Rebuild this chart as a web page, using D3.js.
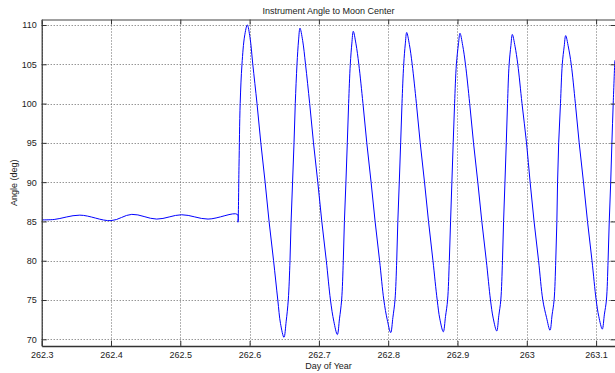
<!DOCTYPE html>
<html>
<head>
<meta charset="utf-8">
<script src="https://cdn.jsdelivr.net/npm/d3@7"></script>
<style>
  body { margin: 0; background: #fff; }
  svg { display: block; }
</style>
</head>
<body>
<svg id="chart"></svg>
<script>
// ticks / labels
const xTicks = [262.3, 262.4, 262.5, 262.6, 262.7, 262.8, 262.9, 263.0, 263.1];
const xTickLabels = ["262.3", "262.4", "262.5", "262.6", "262.7", "262.8", "262.9", "263", "263.1"];
const yTicks = [70, 75, 80, 85, 90, 95, 100, 105, 110];
const title = "Instrument Angle to Moon Center";
const xLabel = "Day of Year";
const yLabel = "Angle (deg)";

// before the slew: slow wobble around 85 deg
const calmDay   = [262.300, 262.318, 262.355, 262.400, 262.430, 262.466, 262.502, 262.540, 262.5823, 262.5832];
const calmAngle = [85.2, 85.25, 85.8, 85.1, 85.9, 85.3, 85.85, 85.3, 85.9, 84.9];

// after: big swings (one row per half cycle)
const swingDay = [
  262.5847, 262.5864, 262.5890, 262.5928, 262.5967,
  262.6006, 262.6046, 262.6107, 262.6162, 262.6224, 262.6281, 262.6346, 262.6407, 262.6446, 262.6496,
  262.6528, 262.6558, 262.6583, 262.6599, 262.6620, 262.6641, 262.6659, 262.6684, 262.6707, 262.6727,
  262.6766, 262.6807, 262.6867, 262.6922, 262.6984, 262.7042, 262.7107, 262.7167, 262.7215, 262.7266,
  262.7297, 262.7328, 262.7352, 262.7368, 262.7390, 262.7410, 262.7429, 262.7453, 262.7476, 262.7496,
  262.7535, 262.7576, 262.7636, 262.7691, 262.7753, 262.7811, 262.7876, 262.7937, 262.7986, 262.8036,
  262.8068, 262.8098, 262.8123, 262.8139, 262.8160, 262.8180, 262.8199, 262.8224, 262.8247, 262.8267,
  262.8306, 262.8346, 262.8407, 262.8462, 262.8524, 262.8582, 262.8646, 262.8707, 262.8745, 262.8795,
  262.8827, 262.8857, 262.8882, 262.8900, 262.8919, 262.8938, 262.8958, 262.8984, 262.9014, 262.9036,
  262.9075, 262.9115, 262.9176, 262.9231, 262.9293, 262.9351, 262.9416, 262.9476, 262.9515, 262.9566,
  262.9596, 262.9625, 262.9649, 262.9665, 262.9685, 262.9704, 262.9722, 262.9745, 262.9771, 262.9791,
  262.9830, 262.9870, 262.9931, 262.9996, 263.0048, 263.0105, 263.0170, 263.0231, 263.0284, 263.0335,
  263.0365, 263.0394, 263.0418, 263.0434, 263.0444, 263.0460, 263.0486, 263.0512, 263.0540, 263.0561,
  263.0600, 263.0641, 263.0701, 263.0756, 263.0818, 263.0876, 263.0941, 263.1001, 263.1039, 263.1089,
  263.1120, 263.1149, 263.1173, 263.1190, 263.1211, 263.1228, 263.1247, 263.1270
];
const swingAngle = [
  92, 100, 105, 108.6, 110.0,
  108.4, 105, 100, 95, 90, 85, 80, 75, 72, 70.25,
  72.3, 75, 80, 85, 90, 95, 100, 105, 108.1, 109.6,
  108.0, 105, 100, 95, 90, 85, 80, 75, 72.3, 70.6,
  72.6, 75, 80, 85, 90, 95, 100, 105, 107.7, 109.2,
  107.6, 105, 100, 95, 90, 85, 80, 75, 72.5, 70.85,
  72.8, 75, 80, 85, 90, 95, 100, 105, 107.6, 109.05,
  107.5, 105, 100, 95, 90, 85, 80, 75, 72.6, 70.95,
  72.9, 75, 80, 85, 90, 95, 100, 105, 107.6, 108.95,
  107.4, 105, 100, 95, 90, 85, 80, 75, 72.7, 71.05,
  73.0, 75, 80, 85, 90, 95, 100, 105, 107.4, 108.8,
  107.3, 105, 100, 95, 90, 85, 80, 75, 72.8, 71.15,
  73.1, 75, 80, 85, 90, 95, 100, 105, 107.3, 108.65,
  107.2, 105, 100, 95, 90, 85, 80, 75, 72.9, 71.3,
  73.2, 75, 80, 85, 90, 95, 100, 105.5
];

const W = 615, H = 373;
const plotL = 41.7, plotR = 615.5, plotT = 19.5, plotB = 346;
const font = "'Liberation Sans', Arial, Helvetica, sans-serif";

const data = calmDay.map((d, i) => ({day: d, angle: calmAngle[i]}))
  .concat(swingDay.map((d, i) => ({day: d, angle: swingAngle[i]})));

const x = d3.scaleLinear().domain([262.3, 263.128]).range([plotL, plotR]);
const y = d3.scaleLinear().domain([69.147, 110.7]).range([plotB, plotT]);

const svg = d3.select("#chart")
    .attr("width", W)
    .attr("height", H)
    .attr("font-family", font);

svg.append("defs").append("clipPath")
    .attr("id", "plotclip")
  .append("rect")
    .attr("x", plotL).attr("y", plotT)
    .attr("width", plotR - plotL).attr("height", plotB - plotT);

// dotted grid
const grid = svg.append("g")
    .attr("stroke", "#666")
    .attr("stroke-width", 1)
    .attr("stroke-dasharray", "1,2");

grid.selectAll("line.v")
    .data(xTicks)
    .enter().append("line")
    .attr("class", "v")
    .attr("x1", d => Math.round(x(d)) + 0.5)
    .attr("x2", d => Math.round(x(d)) + 0.5)
    .attr("y1", plotT)
    .attr("y2", plotB);

grid.selectAll("line.h")
    .data(yTicks)
    .enter().append("line")
    .attr("class", "h")
    .attr("y1", d => Math.round(y(d)) + 0.5)
    .attr("y2", d => Math.round(y(d)) + 0.5)
    .attr("x1", plotL)
    .attr("x2", plotR);

// the curve
svg.append("path")
    .datum(data)
    .attr("clip-path", "url(#plotclip)")
    .attr("fill", "none")
    .attr("stroke", "#0000ff")
    .attr("stroke-width", 1)
    .attr("d", d3.line()
        .x(d => x(d.day))
        .y(d => y(d.angle))
        .curve(d3.curveCatmullRom.alpha(0.5)));

// axes, ticks pointing inward
const fmtX = d => xTickLabels[xTicks.indexOf(d)];

const xAxis = svg.append("g")
    .attr("transform", `translate(0,${plotB})`)
    .call(d3.axisBottom(x).tickValues(xTicks).tickFormat(fmtX)
        .tickSizeInner(-5).tickSizeOuter(0).tickPadding(5.5));

const yAxis = svg.append("g")
    .attr("transform", `translate(${plotL},0)`)
    .call(d3.axisLeft(y).tickValues(yTicks).tickFormat(d3.format("d"))
        .tickSizeInner(-5).tickSizeOuter(0).tickPadding(5));

const topAxis = svg.append("g")
    .attr("transform", `translate(0,${plotT})`)
    .call(d3.axisTop(x).tickValues(xTicks).tickFormat("")
        .tickSizeInner(-5).tickSizeOuter(0));

const rightAxis = svg.append("g")
    .attr("transform", `translate(${plotR},0)`)
    .call(d3.axisRight(y).tickValues(yTicks).tickFormat("")
        .tickSizeInner(-5).tickSizeOuter(0));

[xAxis, yAxis, topAxis, rightAxis].forEach(g => {
    g.selectAll(".tick line").attr("stroke", "#333");
    g.selectAll("text")
        .attr("font-family", font)
        .attr("font-size", 9)
        .attr("fill", "#222");
});
xAxis.select(".domain").attr("stroke", "#333").attr("stroke-width", 1.5);
yAxis.select(".domain").attr("stroke", "#333").attr("stroke-width", 1.2);
topAxis.select(".domain").attr("stroke", "#a0a0a0").attr("stroke-width", 2);
rightAxis.select(".domain").attr("stroke", "#333");

// labels
svg.append("text")
    .attr("x", (plotL + plotR) / 2)
    .attr("y", 13.5)
    .attr("text-anchor", "middle")
    .attr("font-size", 9)
    .attr("fill", "#222")
    .text(title);

svg.append("text")
    .attr("x", (plotL + plotR) / 2)
    .attr("y", 368.5)
    .attr("text-anchor", "middle")
    .attr("font-size", 9)
    .attr("fill", "#222")
    .text(xLabel);

svg.append("text")
    .attr("transform", `translate(17,${(plotT + plotB) / 2}) rotate(-90)`)
    .attr("text-anchor", "middle")
    .attr("font-size", 9)
    .attr("fill", "#222")
    .text(yLabel);
</script>
</body>
</html>
